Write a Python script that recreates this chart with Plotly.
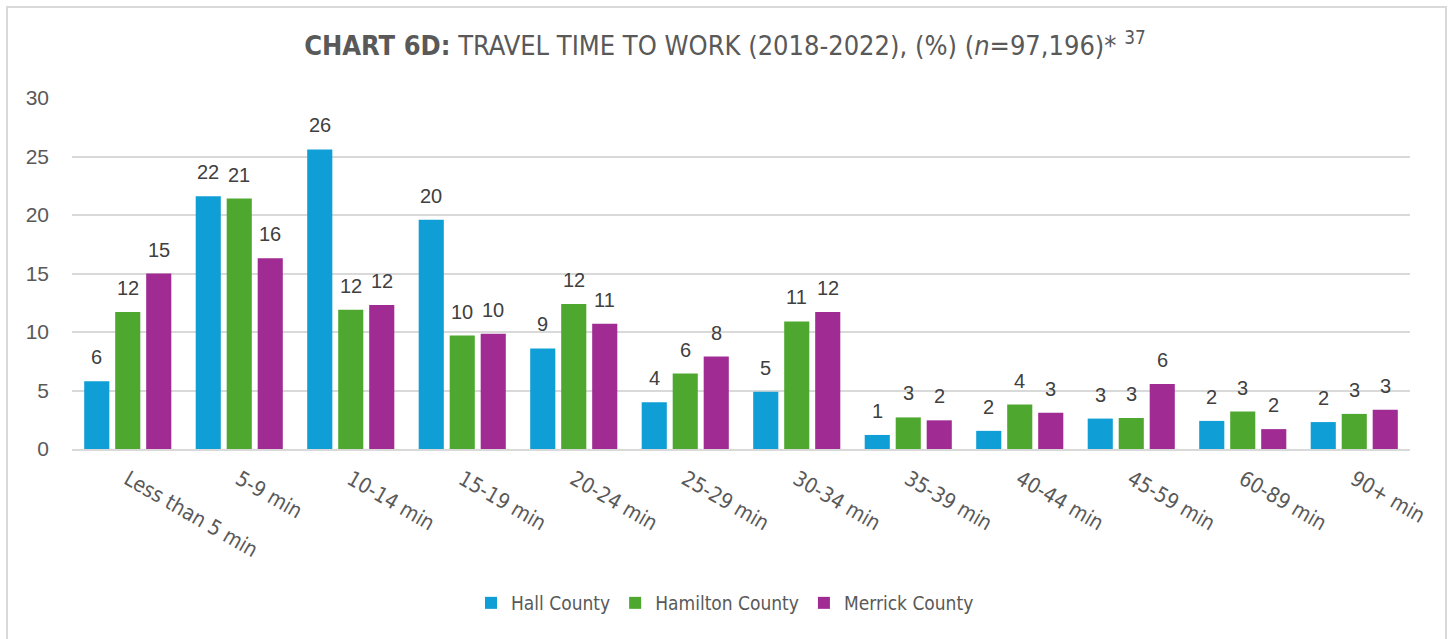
import plotly.graph_objects as go

categories = ["Less than 5 min", "5-9 min", "10-14 min", "15-19 min", "20-24 min",
              "25-29 min", "30-34 min", "35-39 min", "40-44 min", "45-59 min",
              "60-89 min", "90+ min"]
hall = [5.8, 21.6, 25.6, 19.6, 8.6, 4.0, 4.9, 1.2, 1.55, 2.6, 2.4, 2.3]
hamilton = [11.7, 21.4, 11.9, 9.7, 12.4, 6.45, 10.9, 2.7, 3.8, 2.65, 3.2, 3.0]
merrick = [15.0, 16.3, 12.3, 9.85, 10.7, 7.9, 11.7, 2.45, 3.1, 5.55, 1.7, 3.35]
series_names = ["Hall County", "Hamilton County", "Merrick County"]
colors = ["#0F9ED5", "#4EA72E", "#A02B93"]
y_ticks = [0, 5, 10, 15, 20, 25, 30]

W, H = 1450, 639
ML, MR, MT, MB = 72, 40, 98, 190
BARGAP = 0.166
BARGROUPGAP = 0.19

COND = "DejaVu Sans Condensed, Liberation Sans Narrow, sans-serif"
REG = "Liberation Sans, Arial, sans-serif"
TXT = "#595959"

fig = go.Figure()
all_series = [hall, hamilton, merrick]
for name, vals, col in zip(series_names, all_series, colors):
    fig.add_trace(go.Bar(x=categories, y=vals, name=name, marker_color=col,
                         marker_line_width=0))

# data labels above bars
slot = (1 - BARGAP) / 3
annotations = []
for k, vals in enumerate(all_series):
    for i, v in enumerate(vals):
        annotations.append(dict(
            x=i + (k - 1) * slot, y=v, xref="x", yref="y",
            text=str(int(v + 0.5)), showarrow=False,
            yanchor="middle", yshift=24,
            font=dict(family=REG, size=20, color="#404040")))

pw = W - ML - MR
ph = H - MT - MB
shapes = [dict(type="rect", xref="paper", yref="paper",
               x0=(7 - ML) / pw, x1=(1446 - ML) / pw,
               y0=(H - MB - 700) / ph, y1=(H - MB - 7) / ph,
               line=dict(color="#D9D9D9", width=2), fillcolor="rgba(0,0,0,0)", layer="below")]

fig.update_layout(
    width=W, height=H,
    margin=dict(l=ML, r=MR, t=MT, b=MB, autoexpand=False),
    paper_bgcolor="white", plot_bgcolor="white",
    barmode="group", bargap=BARGAP, bargroupgap=BARGROUPGAP,
    title=dict(text="<b>CHART 6D:</b> TRAVEL TIME TO WORK (2018-2022), (%) (<i>n</i>=97,196)* <sup>37</sup>",
               x=0.5, xref="container", xanchor="center",
               y=1 - 46 / H, yref="container", yanchor="middle",
               font=dict(family=COND, size=27, color=TXT)),
    legend=dict(orientation="h", x=0.5, xanchor="center", xref="container",
                y=1 - 603 / H, yanchor="middle", yref="container",
                font=dict(family=COND, size=19, color=TXT), traceorder="normal"),
    xaxis=dict(type="category", tickangle=30, showgrid=False,
               showline=True, linecolor="#D9D9D9", linewidth=2,
               ticks="", ticklabelstandoff=8,
               tickfont=dict(family=COND, size=21, color=TXT)),
    yaxis=dict(range=[0, 30], tickvals=y_ticks, showgrid=True, gridcolor="#D9D9D9",
               gridwidth=1.5, zeroline=False, showline=False, ticks="",
               ticklabelstandoff=22,
               tickfont=dict(family=REG, size=21, color=TXT)),
    annotations=annotations, shapes=shapes,
)

fig.write_html("out.html", config={"displayModeBar": False},
               post_script="document.body.style.margin='0';")
